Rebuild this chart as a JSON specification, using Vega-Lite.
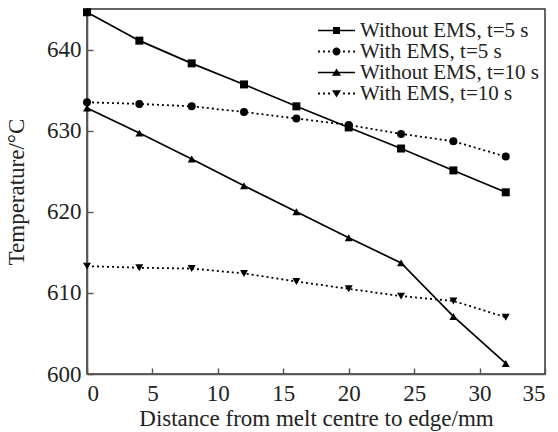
{
  "$schema": "https://vega.github.io/schema/vega-lite/v6.json",
  "autosize": {"type": "none"},
  "padding": {"left": 87, "top": 9, "right": 13, "bottom": 58},
  "width": 458,
  "height": 365,
  "background": "white",
  "data": {
    "values": [
      {"x": 0, "T": 644.6, "series": "Without EMS, t=5 s"},
      {"x": 4, "T": 641.1, "series": "Without EMS, t=5 s"},
      {"x": 8, "T": 638.3, "series": "Without EMS, t=5 s"},
      {"x": 12, "T": 635.7, "series": "Without EMS, t=5 s"},
      {"x": 16, "T": 633.0, "series": "Without EMS, t=5 s"},
      {"x": 20, "T": 630.4, "series": "Without EMS, t=5 s"},
      {"x": 24, "T": 627.8, "series": "Without EMS, t=5 s"},
      {"x": 28, "T": 625.1, "series": "Without EMS, t=5 s"},
      {"x": 32, "T": 622.4, "series": "Without EMS, t=5 s"},
      {"x": 0, "T": 633.5, "series": "With EMS, t=5 s"},
      {"x": 4, "T": 633.3, "series": "With EMS, t=5 s"},
      {"x": 8, "T": 633.0, "series": "With EMS, t=5 s"},
      {"x": 12, "T": 632.3, "series": "With EMS, t=5 s"},
      {"x": 16, "T": 631.5, "series": "With EMS, t=5 s"},
      {"x": 20, "T": 630.7, "series": "With EMS, t=5 s"},
      {"x": 24, "T": 629.6, "series": "With EMS, t=5 s"},
      {"x": 28, "T": 628.7, "series": "With EMS, t=5 s"},
      {"x": 32, "T": 626.8, "series": "With EMS, t=5 s"},
      {"x": 0, "T": 632.8, "series": "Without EMS, t=10 s"},
      {"x": 4, "T": 629.7, "series": "Without EMS, t=10 s"},
      {"x": 8, "T": 626.5, "series": "Without EMS, t=10 s"},
      {"x": 12, "T": 623.2, "series": "Without EMS, t=10 s"},
      {"x": 16, "T": 620.0, "series": "Without EMS, t=10 s"},
      {"x": 20, "T": 616.8, "series": "Without EMS, t=10 s"},
      {"x": 24, "T": 613.7, "series": "Without EMS, t=10 s"},
      {"x": 28, "T": 607.1, "series": "Without EMS, t=10 s"},
      {"x": 32, "T": 601.3, "series": "Without EMS, t=10 s"},
      {"x": 0, "T": 613.3, "series": "With EMS, t=10 s"},
      {"x": 4, "T": 613.1, "series": "With EMS, t=10 s"},
      {"x": 8, "T": 613.0, "series": "With EMS, t=10 s"},
      {"x": 12, "T": 612.4, "series": "With EMS, t=10 s"},
      {"x": 16, "T": 611.4, "series": "With EMS, t=10 s"},
      {"x": 20, "T": 610.5, "series": "With EMS, t=10 s"},
      {"x": 24, "T": 609.6, "series": "With EMS, t=10 s"},
      {"x": 28, "T": 609.0, "series": "With EMS, t=10 s"},
      {"x": 32, "T": 607.0, "series": "With EMS, t=10 s"}
    ]
  },
  "encoding": {
    "x": {
      "field": "x", "type": "quantitative",
      "scale": {"domain": [0, 35], "nice": false, "zero": false},
      "axis": {
        "title": "Distance from melt centre to edge/mm",
        "values": [0, 5, 10, 15, 20, 25, 30, 35],
        "labelPadding": 14,
        "titlePadding": 2
      }
    },
    "y": {
      "field": "T", "type": "quantitative",
      "scale": {"domain": [600, 645], "nice": false, "zero": false},
      "axis": {
        "title": "Temperature/°C",
        "values": [600, 610, 620, 630, 640],
        "labelPadding": 12,
        "titlePadding": 18
      }
    }
  },
  "layer": [
    {
      "transform": [{"filter": {"field": "series", "oneOf": ["Without EMS, t=5 s", "Without EMS, t=10 s"]}}],
      "mark": {"type": "line", "color": "black", "strokeWidth": 1.7},
      "encoding": {"detail": {"field": "series", "type": "nominal"}}
    },
    {
      "transform": [{"filter": {"field": "series", "oneOf": ["With EMS, t=5 s", "With EMS, t=10 s"]}}],
      "mark": {"type": "line", "color": "black", "strokeWidth": 1.8, "strokeDash": [2, 3]},
      "encoding": {"detail": {"field": "series", "type": "nominal"}}
    },
    {
      "mark": {"type": "point", "filled": true, "color": "black", "opacity": 1, "size": 64},
      "encoding": {
        "shape": {
          "field": "series", "type": "nominal",
          "scale": {
            "domain": ["Without EMS, t=5 s", "With EMS, t=5 s", "Without EMS, t=10 s", "With EMS, t=10 s"],
            "range": ["square", "circle", "triangle-up", "triangle-down"]
          },
          "legend": null
        }
      }
    },
    {
      "transform": [{"filter": {"field": "x", "lt": -1}}],
      "mark": {"type": "point", "filled": true, "color": "black", "opacity": 1, "size": 100},
      "encoding": {
        "shape": {
          "field": "series", "type": "nominal",
          "scale": {
            "domain": ["Without EMS, t=5 s", "With EMS, t=5 s", "Without EMS, t=10 s", "With EMS, t=10 s"],
            "range": [
              "M-3.7,-0.16L3.7,-0.16L3.7,0.16L-3.7,0.16Z M-0.7,-0.7L0.7,-0.7L0.7,0.7L-0.7,0.7Z",
              "M-3.7,-0.19L-3.32,-0.19L-3.32,0.19L-3.7,0.19Z M-2.69,-0.19L-2.31,-0.19L-2.31,0.19L-2.69,0.19Z M-1.69,-0.19L-1.31,-0.19L-1.31,0.19L-1.69,0.19Z M1.31,-0.19L1.69,-0.19L1.69,0.19L1.31,0.19Z M2.31,-0.19L2.69,-0.19L2.69,0.19L2.31,0.19Z M3.32,-0.19L3.7,-0.19L3.7,0.19L3.32,0.19Z M0.8,0A0.8,0.8,0,1,1,-0.8,0A0.8,0.8,0,1,1,0.8,0Z",
              "M-3.7,-0.16L3.7,-0.16L3.7,0.16L-3.7,0.16Z M0,-0.8L0.9,0.65L-0.9,0.65Z",
              "M-3.7,-0.19L-3.32,-0.19L-3.32,0.19L-3.7,0.19Z M-2.69,-0.19L-2.31,-0.19L-2.31,0.19L-2.69,0.19Z M-1.69,-0.19L-1.31,-0.19L-1.31,0.19L-1.69,0.19Z M1.31,-0.19L1.69,-0.19L1.69,0.19L1.31,0.19Z M2.31,-0.19L2.69,-0.19L2.69,0.19L2.31,0.19Z M3.32,-0.19L3.7,-0.19L3.7,0.19L3.32,0.19Z M0,0.8L0.9,-0.65L-0.9,-0.65Z"
            ]
          },
          "legend": {
            "title": null,
            "orient": "none",
            "legendX": 239,
            "legendY": 11,
            "padding": 0,
            "labelFontSize": 21,
            "labelLimit": 400,
            "labelOffset": 13,
            "rowPadding": -2.5,
            "symbolSize": 100,
            "symbolFillColor": "black",
            "symbolStrokeWidth": 0
          }
        }
      }
    }
  ],
  "resolve": {"scale": {"shape": "independent"}},
  "config": {
    "font": "Liberation Serif",
    "view": {"stroke": "#333", "strokeWidth": 1.5},
    "axis": {
      "grid": false,
      "domainColor": "#555",
      "domainWidth": 1.6,
      "tickColor": "#555",
      "tickWidth": 1.4,
      "tickSize": -6,
      "labelFont": "Liberation Serif",
      "labelFontSize": 23,
      "labelColor": "#222",
      "titleFont": "Liberation Serif",
      "titleFontSize": 23,
      "titleFontWeight": "normal",
      "titleColor": "#222"
    },
    "legend": {
      "labelFont": "Liberation Serif",
      "labelColor": "#222"
    }
  }
}
